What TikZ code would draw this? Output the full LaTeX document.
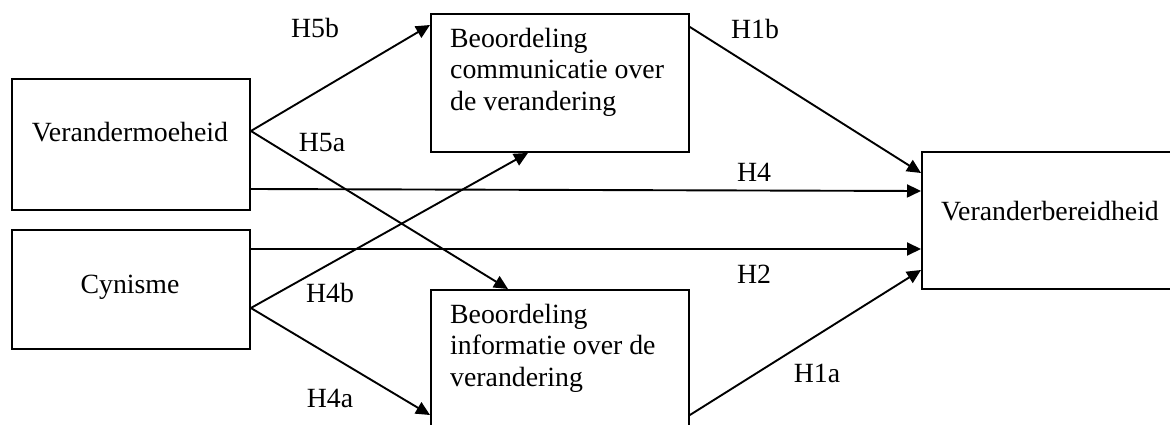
\documentclass[tikz,border=0pt]{standalone}
\usepackage{fontspec}
\setmainfont{Liberation Serif}
\usetikzlibrary{arrows.meta}

\tikzset{
  box/.style={draw, line width=1.9pt, rectangle, inner sep=0pt, anchor=north west},
  txt/.style={font=\fontsize{27.8}{31.5}\selectfont, inner sep=0pt},
  lbl/.style={font=\fontsize{27.8}{31.5}\selectfont, inner sep=0pt, anchor=base},
  pijl/.style={line width=1.9pt, -{Triangle[length=14pt,width=13pt]}},
}

\begin{document}
\begin{tikzpicture}[x=1pt,y=-1pt]
  \useasboundingbox (0,0) rectangle (1170,425);
  \clip (0,0) rectangle (1170,425);
  % vakken
  \node[box, minimum width=238pt, minimum height=131pt] (moe) at (11,78) {};
  \node[box, minimum width=238pt, minimum height=119pt] (cyn) at (11,229) {};
  \node[box, minimum width=258pt, minimum height=138pt] (comm) at (430,13) {};
  \node[box, minimum width=258pt, minimum height=138pt] (info) at (430,289) {};
  \node[box, minimum width=258pt, minimum height=137pt] (bereid) at (921,151) {};
  % teksten in de vakken
  \node[txt, anchor=base] (moe-t) at (130,142) {Verandermoeheid};
  \node[txt, anchor=base] (cyn-t) at (130,293) {Cynisme};
  \node[txt, anchor=north west, align=left] (comm-t) at (450,28) {Beoordeling\\communicatie over\\de verandering};
  \node[txt, anchor=north west, align=left] (info-t) at (450,304) {Beoordeling\\informatie over de\\verandering};
  \node[txt, anchor=base] (bereid-t) at (1050,220) {Veranderbereidheid};
  % pijlen
  \draw[pijl] ([yshift=-53pt]moe.north east) -- ([yshift=-12pt]comm.north west);
  \draw[pijl] ([yshift=-53pt]moe.north east) -- ([xshift=78pt]info.north west);
  \draw[pijl] ([yshift=-111pt]moe.north east) -- ([yshift=-40pt]bereid.north west);
  \draw[pijl] ([yshift=-20pt]cyn.north east) -- ([yshift=-98pt]bereid.north west);
  \draw[pijl] ([yshift=-79pt]cyn.north east) -- ([xshift=98pt]comm.south west);
  \draw[pijl] ([yshift=-79pt]cyn.north east) -- ([yshift=-126pt]info.north west);
  \draw[pijl] ([yshift=-14pt]comm.north east) -- ([yshift=-22pt]bereid.north west);
  \draw[pijl] ([yshift=-126pt]info.north east) -- ([yshift=-119pt]bereid.north west);
  % hypothesen
  \node[lbl] (h5b) at (315,38) {H5b};
  \node[lbl] (h5a) at (322,152) {H5a};
  \node[lbl] (h4b) at (330,302) {H4b};
  \node[lbl] (h4a) at (330,407) {H4a};
  \node[lbl] (h1b) at (755,39) {H1b};
  \node[lbl] (h4) at (754,181) {H4};
  \node[lbl] (h2) at (754,283) {H2};
  \node[lbl] (h1a) at (817,382) {H1a};
\end{tikzpicture}
\end{document}
